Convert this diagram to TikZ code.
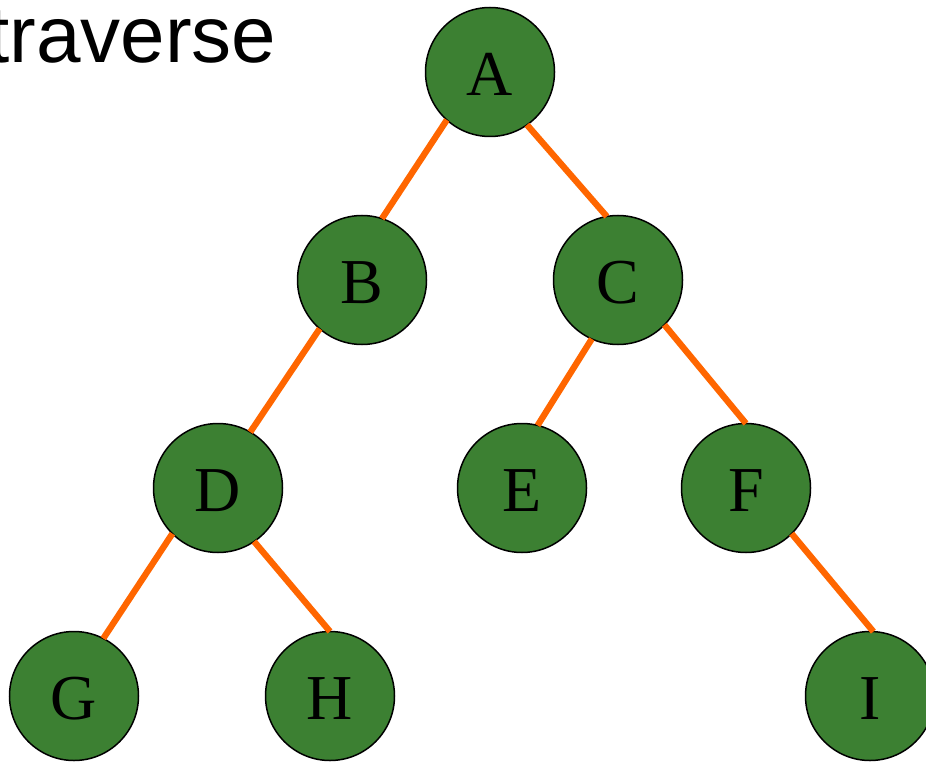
\documentclass[tikz,border=0pt]{standalone}
\usepackage{fontspec}
\setmainfont{Liberation Serif}
\newfontfamily\headfont{Liberation Sans}
\definecolor{nodegreen}{RGB}{60,128,50}
\definecolor{edgeorange}{RGB}{255,102,0}
\begin{document}
\begin{tikzpicture}[x=1pt,y=-1pt,
  treenode/.style={circle, draw=black, line width=1.5pt, fill=nodegreen,
    minimum size=129pt, inner sep=0pt, outer sep=0pt,
    font=\fontsize{64}{64}\selectfont, text height=47pt, text depth=0pt},
  treeedge/.style={draw=edgeorange, line width=6.3pt}]
  \useasboundingbox (0,0) rectangle (926,762);

  % heading
  \node[anchor=base west, inner sep=0pt, font=\headfont\fontsize{80}{80}\selectfont]
    (title) at (-13,63) {traverse};

  % tree nodes
  \node[treenode] (A) at (490,72)  {A};
  \node[treenode] (B) at (362,280) {B};
  \node[treenode] (C) at (618,280) {C};
  \node[treenode] (D) at (218,488) {D};
  \node[treenode] (E) at (522,488) {E};
  \node[treenode] (F) at (746,488) {F};
  \node[treenode] (G) at (74,696)  {G};
  \node[treenode] (H) at (330,696) {H};
  \node[treenode] (I) at (870,696) {I};

  % edges
  \draw[treeedge] (A.228) -- (B.72);
  \draw[treeedge] (A.305) -- (C.100);
  \draw[treeedge] (B.229) -- (D.60);
  \draw[treeedge] (C.246) -- (E.76);
  \draw[treeedge] (C.316) -- (F.90);
  \draw[treeedge] (D.225) -- (G.63);
  \draw[treeedge] (D.304) -- (H.90);
  \draw[treeedge] (F.315) -- (I.87);
\end{tikzpicture}
\end{document}
